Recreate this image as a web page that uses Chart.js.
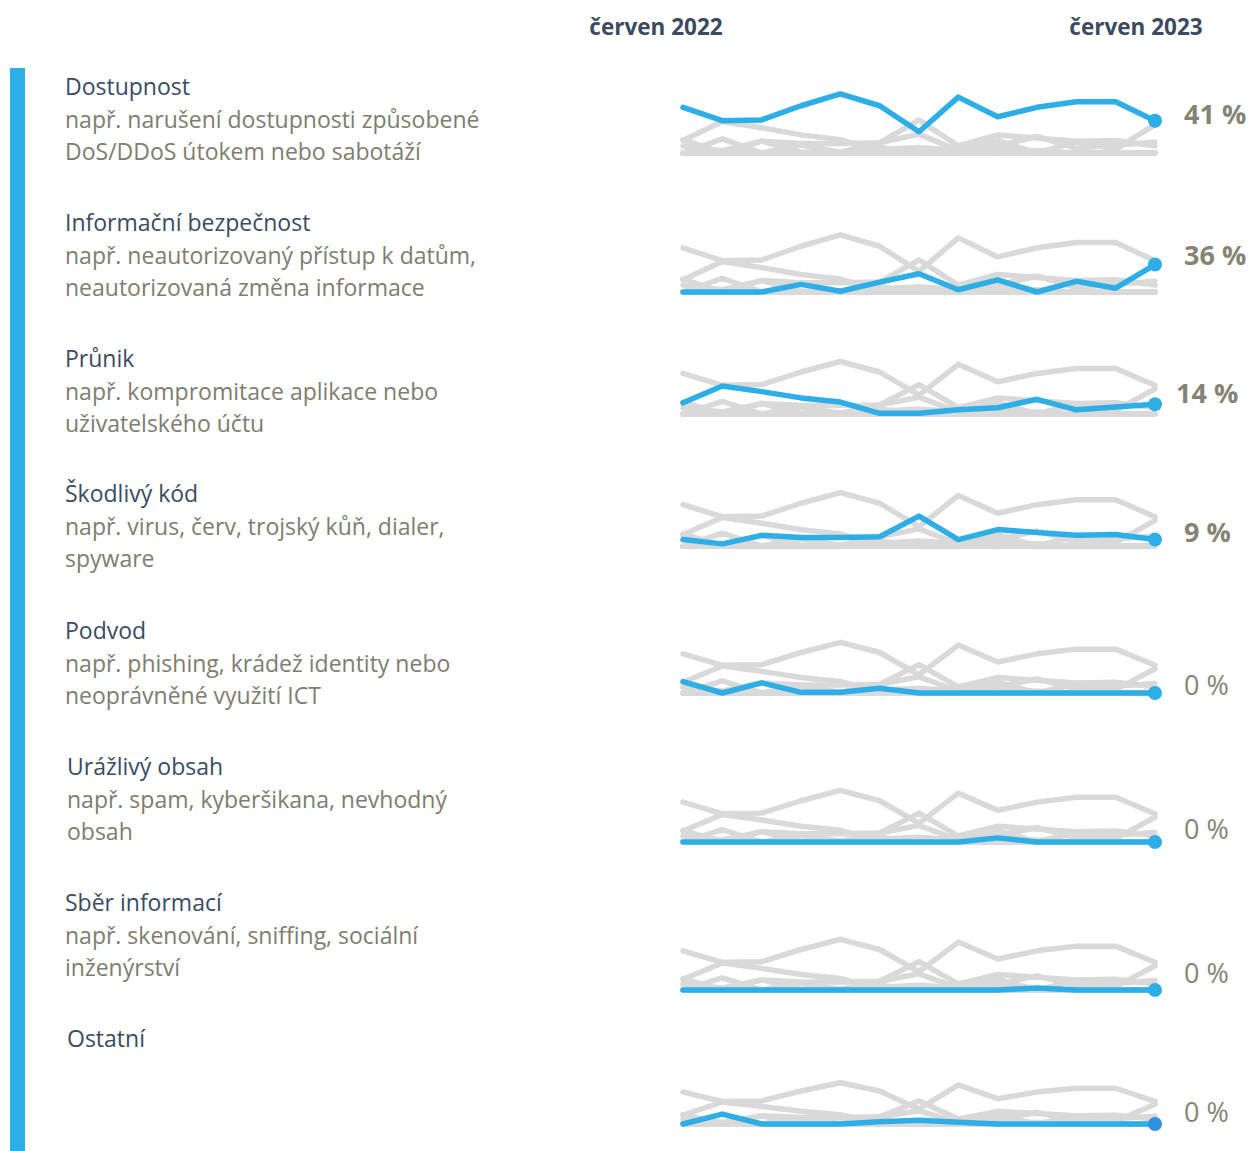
<!DOCTYPE html>
<html lang="cs">
<head>
  <meta charset="UTF-8" />
  <title>Kategorie incidentů</title>
  <script src="https://cdn.jsdelivr.net/npm/chart.js"></script>
  <style>
    body {
      margin: 0;
      width: 1249px;
      height: 1151px;
      background: #ffffff;
      font-family: 'Open Sans', sans-serif;
      position: relative;
      overflow: hidden;
    }
    .bar {
      position: absolute;
      left: 10px;
      top: 68px;
      width: 15px;
      height: 1083px;
      background: #2eaee6;
    }
    .head {
      position: absolute;
      top: 11px;
      font-size: 22.5px;
      font-weight: bold;
      color: #3b4a5f;
      transform: translateX(-50%);
      white-space: nowrap;
    }
    .label {
      position: absolute;
      line-height: 32.5px;
      font-size: 23px;
      white-space: nowrap;
    }
    .label .title { color: #3a4b63; }
    .label .desc { color: #7d7d70; }
    .pct {
      position: absolute;
      font-size: 27px;
      color: #858474;
      line-height: 30px;
      white-space: nowrap;
    }
    canvas { position: absolute; }
  </style>
</head>
<body>
  <div class="bar"></div>
  <div id="root"></div>

  <script>
    // měsíce červen 2022 - červen 2023
    const months = ['červen 2022', 'červenec 2022', 'srpen 2022', 'září 2022', 'říjen 2022',
      'listopad 2022', 'prosinec 2022', 'leden 2023', 'únor 2023', 'březen 2023',
      'duben 2023', 'květen 2023', 'červen 2023'];

    const titles = ['Dostupnost', 'Informační bezpečnost', 'Průnik', 'Škodlivý kód',
      'Podvod', 'Urážlivý obsah', 'Sběr informací', 'Ostatní'];

    const descriptions = [
      ['např. narušení dostupnosti způsobené', 'DoS/DDoS útokem nebo sabotáží'],
      ['např. neautorizovaný přístup k datům,', 'neautorizovaná změna informace'],
      ['např. kompromitace aplikace nebo', 'uživatelského účtu'],
      ['např. virus, červ, trojský kůň, dialer,', 'spyware'],
      ['např. phishing, krádež identity nebo', 'neoprávněné využití ICT'],
      ['např. spam, kyberšikana, nevhodný', 'obsah'],
      ['např. skenování, sniffing, sociální', 'inženýrství'],
      []
    ];

    // podíl incidentů v % po měsících
    const dostupnost   = [58, 41, 42, 60, 75, 60, 27, 71, 46, 58, 65, 65, 41];
    const infoBezpecnost = [0, 0, 0, 10, 1, 13, 24, 3, 16, 0, 14, 5, 36];
    const prunik       = [16, 40, 32, 23, 17, 1, 1, 6, 9, 21, 6, 10, 14];
    const skodlivyKod  = [9, 3, 15, 12, 12, 13, 42, 9, 23, 19, 15, 16, 9];
    const podvod       = [17, 0, 15, 1, 1, 7, 0, 0, 0, 0, 0, 0, 0];
    const urazlivy     = [0, 0, 0, 0, 0, 0, 0, 0, 6, 0, 0, 0, 0];
    const sberInfo     = [0, 0, 0, 0, 0, 0, 0, 0, 0, 3, 0, 0, 0];
    const ostatni      = [0, 18, 0, 0, 0, 4, 7, 3, 0, 0, 0, 0, 0];

    const series = [dostupnost, infoBezpecnost, prunik, skodlivyKod, podvod, urazlivy, sberInfo, ostatni];

    // rozložení jednotlivých panelů
    const baseY   = [153, 292, 414, 546, 693, 842, 990, 1124];
    const pxPerPc = [0.79, 0.76, 0.70, 0.71, 0.68, 0.69, 0.68, 0.55];
    const textTop = [70, 206, 342, 477, 614, 750, 886, 1022];
    const textLeft = [65, 65, 65, 65, 65, 67, 65, 67];
    const pctTop  = [99, 240, 378, 517, 670, 814, 958, 1097];
    const pctLeft = [1184, 1184, 1176, 1184, 1184, 1184, 1184, 1184];
    const dotColors = ['#2eaee6', '#2eaee6', '#2eaee6', '#2eaee6', '#2eaee6', '#2eaee6', '#2eaee6', '#2f8fe0'];

    const X0 = 683, X1 = 1155, PAD = 12, YMAX = 80;
    const BLUE = '#2eaee6', GRAY = '#d9d9d9';
    const root = document.getElementById('root');

    function addHead(text, cx) {
      const d = document.createElement('div');
      d.className = 'head';
      d.style.left = cx + 'px';
      d.textContent = text;
      root.appendChild(d);
    }
    addHead(months[0], 656);
    addHead(months[months.length - 1], 1136);

    series.forEach((data, i) => {
      // popisky vlevo
      const lab = document.createElement('div');
      lab.className = 'label';
      lab.style.left = textLeft[i] + 'px';
      lab.style.top = textTop[i] + 'px';
      let html = `<div class="title">${titles[i]}</div>`;
      descriptions[i].forEach(line => { html += `<div class="desc">${line}</div>`; });
      lab.innerHTML = html;
      root.appendChild(lab);

      // hodnota za poslední měsíc
      const last = data[data.length - 1];
      const p = document.createElement('div');
      p.className = 'pct';
      p.style.left = pctLeft[i] + 'px';
      p.style.top = pctTop[i] + 'px';
      p.style.fontWeight = last > 0 ? 'bold' : 'normal';
      p.textContent = last + ' %';
      root.appendChild(p);

      // graf
      const h = YMAX * pxPerPc[i];
      const canvas = document.createElement('canvas');
      const cw = X1 - X0 + 2 * PAD;
      const ch = h + 2 * PAD;
      canvas.width = cw;
      canvas.height = Math.round(ch);
      canvas.style.left = (X0 - PAD) + 'px';
      canvas.style.top = (baseY[i] - h - PAD) + 'px';
      root.appendChild(canvas);

      const datasets = [{
        data: data,
        borderColor: BLUE,
        borderWidth: 5.5,
        order: 0,
        pointRadius: ctx => ctx.dataIndex === data.length - 1 ? 7 : 0,
        pointBackgroundColor: dotColors[i],
        pointBorderWidth: 0,
        clip: false
      }];
      series.forEach((other, j) => {
        if (j === i) return;
        datasets.push({
          data: other,
          borderColor: GRAY,
          borderWidth: 5.5,
          order: 1,
          pointRadius: 0,
          clip: false
        });
      });

      new Chart(canvas.getContext('2d'), {
        type: 'line',
        data: { labels: months, datasets: datasets },
        options: {
          responsive: false,
          animation: false,
          events: [],
          layout: { padding: PAD },
          elements: { line: { tension: 0, borderJoinStyle: 'round', borderCapStyle: 'round' } },
          plugins: { legend: { display: false }, tooltip: { enabled: false } },
          scales: {
            x: { display: false },
            y: { display: false, min: 0, max: YMAX }
          }
        }
      });
    });
  </script>
</body>
</html>
